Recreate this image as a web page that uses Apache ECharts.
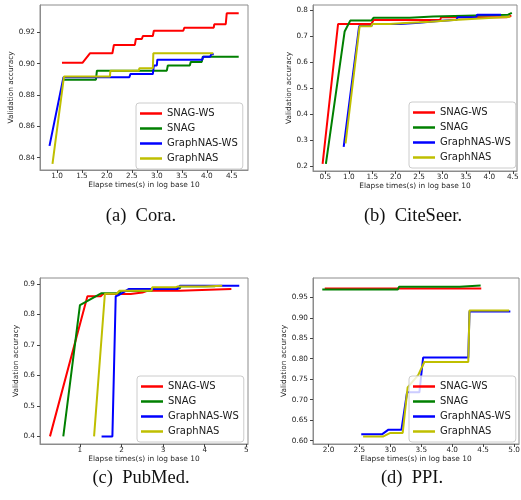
<!DOCTYPE html>
<html><head><meta charset="utf-8">
<script src="https://cdn.jsdelivr.net/npm/echarts@6/dist/echarts.min.js"></script>
<style>html,body{margin:0;padding:0;background:#fff}#c{width:521px;height:500px}</style>
</head><body><div id="c"></div>
<script>
const seriesNames = ['SNAG-WS', 'SNAG', 'GraphNAS-WS', 'GraphNAS'];
const captions = ['(a)  Cora.', '(b)  CiteSeer.', '(c)  PubMed.', '(d)  PPI.'];
const xAxisTitle = 'Elapse times(s) in log base 10';
const yAxisTitle = 'Validation accuracy';

// (a) Cora
const coraSnagWs = [[1.10,0.9005],[1.51,0.9005],[1.66,0.9066],[2.11,0.9066],[2.14,0.9119],[2.56,0.9119],[2.58,0.9157],[2.70,0.9157],[2.72,0.9176],[2.92,0.9176],[2.94,0.921],[3.53,0.921],[3.55,0.9229],[4.14,0.9229],[4.15,0.9251],[4.38,0.9251],[4.40,0.9321],[4.64,0.9321]];
const coraSnag = [[1.14,0.8897],[1.78,0.8897],[1.80,0.8955],[3.20,0.8955],[3.22,0.8988],[3.66,0.8988],[3.68,0.9011],[3.90,0.9011],[3.92,0.9044],[4.64,0.9044]];
const coraGraphNasWs = [[0.85,0.8475],[1.13,0.8913],[2.45,0.8913],[2.47,0.8933],[2.92,0.8933],[2.94,0.8988],[3.00,0.8988],[3.01,0.9025],[3.91,0.9025],[3.93,0.9044],[4.07,0.9044],[4.09,0.906],[4.14,0.906]];
const coraGraphNas = [[0.91,0.836],[1.14,0.8917],[2.06,0.8917],[2.07,0.8955],[2.64,0.8955],[2.65,0.897],[2.92,0.897],[2.93,0.9066],[4.13,0.9066]];
const coraXTicks = [1.0, 1.5, 2.0, 2.5, 3.0, 3.5, 4.0, 4.5];
const coraYTicks = [0.84, 0.86, 0.88, 0.90, 0.92];

// (b) CiteSeer
const citeSnagWs = [[0.44,0.208],[0.77,0.746],[1.48,0.746],[1.53,0.7615],[2.95,0.7615],[2.97,0.772],[4.37,0.772],[4.38,0.778],[4.47,0.778]];
const citeSnag = [[0.51,0.208],[0.91,0.717],[1.03,0.759],[1.48,0.759],[1.53,0.770],[2.30,0.770],[2.32,0.775],[2.80,0.775],[2.82,0.782],[4.40,0.782],[4.41,0.789],[4.48,0.789]];
const citeGraphNasWs = [[0.89,0.274],[1.22,0.738],[1.48,0.738],[1.50,0.746],[2.10,0.746],[2.12,0.751],[2.50,0.751],[2.52,0.757],[2.85,0.757],[2.87,0.762],[3.30,0.762],[3.32,0.772],[3.72,0.772],[3.74,0.782],[4.25,0.782]];
const citeGraphNas = [[0.93,0.287],[1.23,0.737],[1.48,0.737],[1.50,0.746],[1.87,0.746],[1.89,0.751],[2.30,0.751],[2.32,0.755],[2.75,0.755],[2.77,0.761],[3.25,0.761],[3.27,0.767],[3.80,0.767],[3.82,0.774],[4.45,0.774]];
const citeXTicks = [0.5, 1.0, 1.5, 2.0, 2.5, 3.0, 3.5, 4.0, 4.5];
const citeYTicks = [0.2, 0.3, 0.4, 0.5, 0.6, 0.7, 0.8];

// (c) PubMed
const pubSnagWs = [[0.28,0.40],[1.18,0.86],[1.50,0.86],[1.55,0.867],[2.22,0.867],[2.26,0.872],[2.50,0.872],[2.62,0.878],[3.40,0.878],[3.42,0.884],[4.64,0.884]];
const pubSnag = [[0.60,0.40],[1.00,0.831],[1.52,0.870],[1.96,0.870],[1.98,0.877],[2.72,0.877],[2.74,0.886],[3.40,0.886],[3.42,0.893],[4.25,0.893]];
const pubGraphNasWs = [[1.52,0.40],[1.78,0.40],[1.86,0.86],[1.92,0.863],[2.18,0.884],[3.35,0.884],[3.40,0.8945],[4.83,0.8945]];
const pubGraphNas = [[1.34,0.40],[1.60,0.868],[1.88,0.868],[1.95,0.878],[2.72,0.878],[2.74,0.889],[3.30,0.889],[3.35,0.892],[4.00,0.892],[4.02,0.894],[4.42,0.894]];
const pubXTicks = [1, 2, 3, 4, 5];
const pubYTicks = [0.4, 0.5, 0.6, 0.7, 0.8, 0.9];

// (d) PPI
const ppiSnagWs = [[1.94,0.9715],[4.47,0.9715]];
const ppiSnag = [[1.90,0.969],[3.12,0.969],[3.14,0.9755],[4.12,0.9755],[4.13,0.9786],[4.46,0.9786]];
const ppiGraphNasWs = [[2.53,0.616],[2.87,0.616],[2.97,0.627],[3.18,0.627],[3.27,0.718],[3.47,0.718],[3.53,0.803],[4.26,0.803],[4.28,0.915],[4.94,0.915]];
const ppiGraphNas = [[2.56,0.610],[2.88,0.610],[3.00,0.619],[3.20,0.619],[3.28,0.730],[3.45,0.760],[3.55,0.792],[4.26,0.792],[4.28,0.918],[4.92,0.918]];
const ppiXTicks = [2.0, 2.5, 3.0, 3.5, 4.0, 4.5, 5.0];
const ppiYTicks = [0.60, 0.65, 0.70, 0.75, 0.80, 0.85, 0.90, 0.95];

const colors = ['#ff0000', '#008000', '#0000ff', '#bfbf00'];
const FONT = 'DejaVu Sans';
const TEXT = '#262626';
const FRAME = '#8c8c8c';

const panels = [
  { data: [coraSnagWs, coraSnag, coraGraphNasWs, coraGraphNas], xTicks: coraXTicks, yTicks: coraYTicks, xDec: 1, yDec: 2,
    grid: {left: 40, top: 5, width: 208, height: 165}, xRange: [0.66, 4.826], yRange: [0.8321, 0.9374], yNameGap: 22,
    legend: {left: 136, top: 103}, cap: [141, 216] },
  { data: [citeSnagWs, citeSnag, citeGraphNasWs, citeGraphNas], xTicks: citeXTicks, yTicks: citeYTicks, xDec: 1, yDec: 1,
    grid: {left: 313, top: 5, width: 204, height: 166}, xRange: [0.235, 4.59], yRange: [0.181, 0.819], yNameGap: 17,
    legend: {left: 409, top: 102}, cap: [413, 216] },
  { data: [pubSnagWs, pubSnag, pubGraphNasWs, pubGraphNas], xTicks: pubXTicks, yTicks: pubYTicks, xDec: 0, yDec: 1,
    grid: {left: 40, top: 278, width: 208, height: 166}, xRange: [0.04, 5.04], yRange: [0.375, 0.9197], yNameGap: 17,
    legend: {left: 137, top: 376}, cap: [141, 478] },
  { data: [ppiSnagWs, ppiSnag, ppiGraphNasWs, ppiGraphNas], xTicks: ppiXTicks, yTicks: ppiYTicks, xDec: 1, yDec: 2,
    grid: {left: 313, top: 278, width: 206, height: 166}, xRange: [1.75, 5.08], yRange: [0.592, 0.997], yNameGap: 21,
    legend: {left: 409, top: 376}, cap: [412, 478] }
];

const grid = [], xAxis = [], yAxis = [], series = [], legend = [], graphic = [];
panels.forEach((p, i) => {
  grid.push(Object.assign({show: true, borderColor: FRAME, borderWidth: 1, backgroundColor: 'transparent',
    containLabel: false, outerBoundsMode: 'none'}, p.grid));
  const common = (ticks, dec) => ({
    axisLine: {show: true, onZero: false, lineStyle: {color: FRAME, width: 1}},
    axisTick: {show: true, inside: false, length: 3, customValues: ticks, lineStyle: {color: '#444', width: 1}},
    axisLabel: {customValues: ticks, formatter: v => Number(v).toFixed(dec), fontSize: 7.3, color: TEXT, fontFamily: FONT},
    splitLine: {show: false}
  });
  const xa = Object.assign({type: 'value', gridIndex: i, min: p.xRange[0], max: p.xRange[1],
    name: xAxisTitle, nameLocation: 'middle', nameGap: 12,
    nameTextStyle: {fontSize: 7.4, color: TEXT, fontFamily: FONT}}, common(p.xTicks, p.xDec));
  xa.axisLabel.margin = 3;
  xAxis.push(xa);
  const ya = Object.assign({type: 'value', gridIndex: i, min: p.yRange[0], max: p.yRange[1],
    name: yAxisTitle, nameLocation: 'middle', nameGap: p.yNameGap,
    nameTextStyle: {fontSize: 7.4, color: TEXT, fontFamily: FONT}}, common(p.yTicks, p.yDec));
  ya.axisLabel.margin = 5;
  yAxis.push(ya);
  p.data.forEach((d, k) => {
    series.push({type: 'line', name: seriesNames[k], xAxisIndex: i, yAxisIndex: i, data: d,
      symbol: 'none', showSymbol: false, animation: false, z: 2 + k,
      lineStyle: {width: 2, color: colors[k]}, itemStyle: {color: colors[k]}});
  });
  legend.push({data: seriesNames, orient: 'vertical', left: p.legend.left, top: p.legend.top,
    icon: 'rect', itemWidth: 22, itemHeight: 2.5, itemGap: 0, padding: [3, 5, 3, 4],
    backgroundColor: 'rgba(255,255,255,0.8)', borderColor: '#cccccc', borderWidth: 1, borderRadius: 3,
    selectedMode: false, z: 10,
    textStyle: {fontSize: 10, lineHeight: 15, color: '#1a1a1a', fontFamily: FONT}});
  graphic.push({type: 'text', x: p.cap[0], y: p.cap[1],
    style: {text: captions[i], font: '18.5px "Liberation Serif", serif', fill: '#111',
      align: 'center', verticalAlign: 'middle', textAlign: 'center', textVerticalAlign: 'middle'}});
});

const chart = echarts.init(document.getElementById('c'), null, {renderer: 'canvas'});
chart.setOption({animation: false, backgroundColor: '#ffffff', grid, xAxis, yAxis, series, legend, graphic});
</script>
</body></html>
